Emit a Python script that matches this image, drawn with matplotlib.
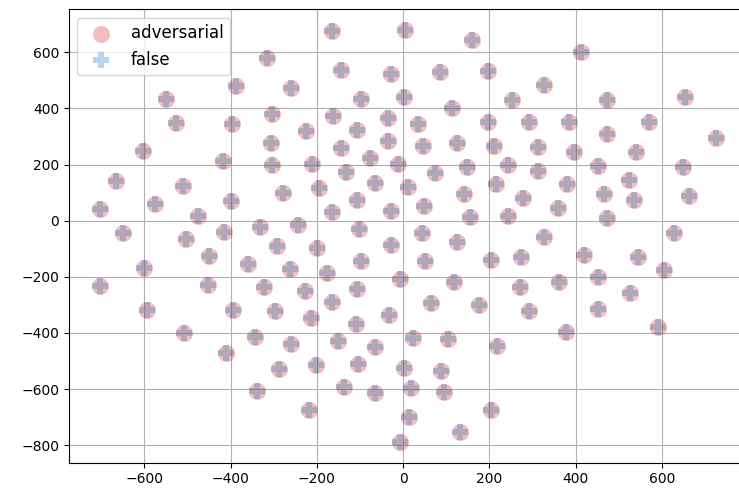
import numpy as np
import matplotlib
matplotlib.use("Agg")
import matplotlib.pyplot as plt

# 2-D embedding coordinates of the samples
emb_x = [
    -549, -526, -603, -388, -396, -417, -315,
    -164, 4, 159, -259, -143, -27, 86, 196,
    -98, 2, 113, -305, -163, -36, -226, -106, 35, 196,
    -306, -143, -35, 45, 125, 210,
    -303, -212, -132, -77, -13, 74, 149,
    -66, -278, -194, -106, 12, 142,
    -164, -29, 49, 155, 215,
    -332, -243, -102, -293, -199, -29, 43, 125,
    -360, -262, -177, -98, 50, 205,
    -8, 118, -322, -228, -108, -164, 64, 176,
    -298, -214, -32, -109,
    -344, -259, -152, -66, 23, 103, 217,
    -288, -203, -104, 1, 88,
    -340, -137, -66, 18, 94,
    -218, 13, 204, 132, -8,
    -508, -410,
    -667, -703, -649, -576, -510, -476, -400, -416, -503, -450,
    -600, -704, -453, -593, -395,
    412, 327, 252, 474, 655,
    292, 384, 570, 472, 726,
    314, 396, 540,
    244, 312, 451, 649,
    380, 525, 277, 360, 467, 536, 664,
    244, 474, 327, 628,
    273, 419, 546, 606,
    271, 362, 453, 291, 453, 527,
    379, 592,
]
emb_y = [
    433, 348, 247, 479, 344, 211, 579,
    674, 680, 643, 473, 536, 522, 528, 534,
    435, 439, 401, 380, 374, 364, 320, 323, 344, 350,
    277, 259, 282, 265, 277, 265,
    200, 203, 174, 222, 203, 170, 191,
    133, 98, 116, 74, 121, 95,
    30, 33, 51, 14, 131,
    -21, -14, -30, -89, -97, -85, -45, -75,
    -154, -172, -187, -142, -142, -141,
    -208, -219, -237, -249, -243, -291, -294, -302,
    -323, -346, -335, -367,
    -413, -439, -427, -451, -418, -423, -445,
    -528, -514, -510, -524, -534,
    -607, -593, -613, -595, -611,
    -676, -700, -676, -751, -789,
    -399, -471,
    142, 42, -45, 59, 125, 15, 69, -42, -65, -125,
    -168, -234, -228, -318, -318,
    599, 483, 431, 431, 441,
    350, 350, 352, 308, 296,
    263, 243, 243,
    200, 176, 195, 190,
    130, 146, 79, 45, 95, 74, 87,
    15, 8, -59, -44,
    -131, -121, -131, -175,
    -235, -219, -202, -323, -314, -259,
    -397, -380,
]

# both label sets sit on the same embedded points
adv_x, adv_y = emb_x, emb_y
false_x, false_y = emb_x, emb_y

fig = plt.figure(figsize=(7.39, 4.95), dpi=100)
ax = fig.add_axes([0.0934, 0.0653, 0.917, 0.916])

ax.scatter(adv_x, adv_y, s=150, marker='o', color='tab:red', alpha=0.3,
           linewidths=0, label='adversarial')
ax.scatter(false_x, false_y, s=135, marker='P', color='tab:blue', alpha=0.3,
           linewidths=0, label='false')

ax.set_xlim(-775, 797)
ax.set_ylim(-862, 753)
ax.set_xticks(np.arange(-600, 601, 200))
ax.set_yticks(np.arange(-800, 601, 200))
ax.grid(True)
ax.set_axisbelow(True)
ax.legend(loc='upper left', fontsize=12)

fig.savefig('out.png', dpi=100)
